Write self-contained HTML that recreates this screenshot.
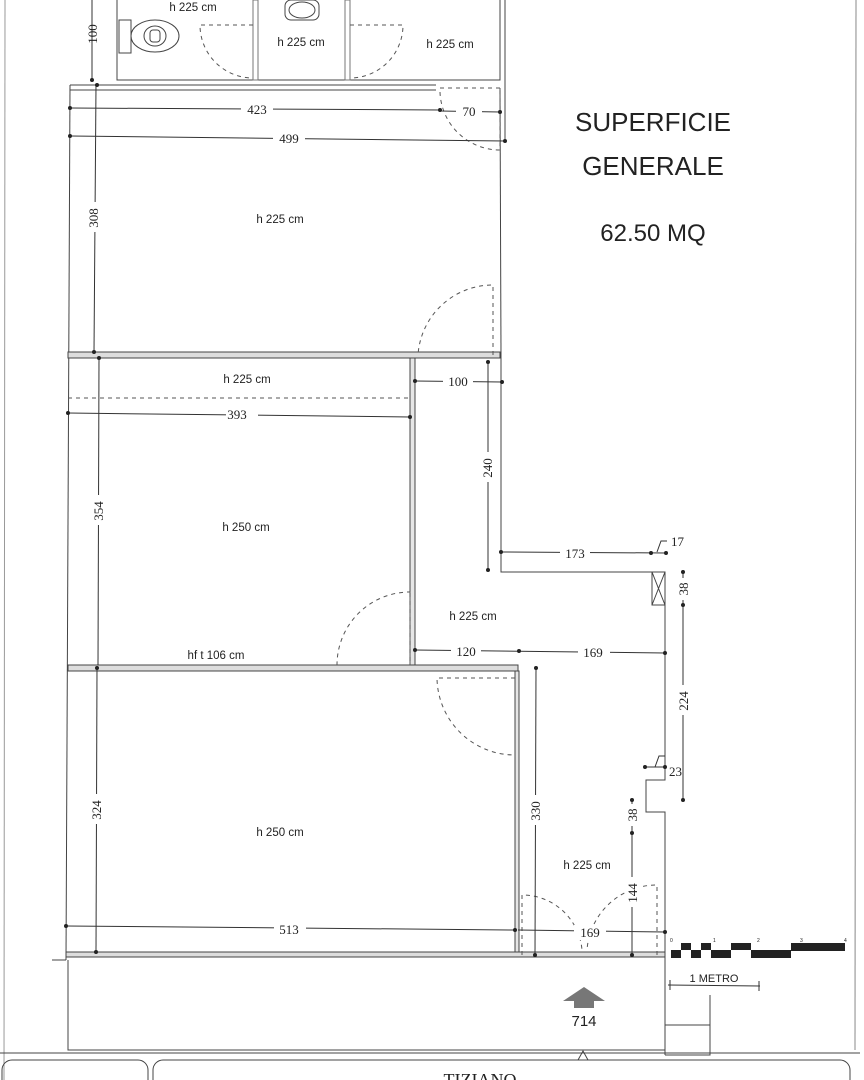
<!DOCTYPE html>
<html><head><meta charset="utf-8"><style>
html,body{margin:0;padding:0;background:#fff;}
svg{display:block;}
.s{font-family:"Liberation Sans",sans-serif;fill:#222;}
.d{font-family:"Liberation Serif",serif;fill:#222;font-size:13px;}
</style></head><body>
<svg width="864" height="1080" viewBox="0 0 864 1080" xmlns="http://www.w3.org/2000/svg">
<g stroke="#444" stroke-width="1" fill="none">
<line x1="5" y1="0" x2="4" y2="1080" stroke="#999"/>
<line x1="856" y1="0" x2="855" y2="1050" stroke="#888"/>
<path d="M117 0 V80 H500 V0"/>
<path d="M505 0 V85"/>
<rect x="253" y="0" width="5" height="80" stroke="#777"/>
<rect x="345" y="0" width="5" height="80" stroke="#777"/>
<rect x="119" y="20" width="12" height="33"/>
<ellipse cx="155" cy="36" rx="24" ry="16"/>
<ellipse cx="155" cy="36" rx="11" ry="10"/>
<rect x="150" y="30" width="10" height="12" rx="3"/>
<rect x="285" y="0" width="34" height="20" rx="6"/>
<ellipse cx="302" cy="10" rx="13" ry="8"/>
<path d="M70 85 H436 M70 90 H436"/>
<line x1="70" y1="85" x2="66" y2="960"/>
<line x1="500" y1="90" x2="501" y2="355"/>
<line x1="505" y1="85" x2="505" y2="142"/>
<rect x="68" y="352" width="432" height="6" fill="#ddd"/>
<rect x="410" y="358" width="5" height="310" fill="#e6e6e6"/>
<path d="M501 355 V572 H665 V780 H646 V812 H665 V1055"/>
<rect x="652" y="572" width="13" height="33"/>
<path d="M652 572 L665 605 M665 572 L652 605"/>
<rect x="68" y="665" width="450" height="6" fill="#ddd"/>
<rect x="515" y="671" width="4" height="284" fill="#e6e6e6"/>
<rect x="66" y="952" width="599" height="5" fill="#ddd"/>
<path d="M66 960 H52 M68 960 V1050 H665"/>
<path d="M0 1053 H860"/>
<rect x="2" y="1060" width="146" height="30" rx="10"/>
<rect x="153" y="1060" width="697" height="30" rx="10"/>
<path d="M578 1060 L583 1051 L588 1060"/>
<path d="M665 1025 H710 M710 995 V1055 H665"/>
</g>
<g stroke="#555" stroke-width="1" fill="none" stroke-dasharray="4 4">
<path d="M253 25 H200 A53 53 0 0 0 253 78"/>
<path d="M350 25 H403 A53 53 0 0 1 350 78"/>
<path d="M500 88 H440 A60 60 0 0 0 500 150 V88"/>
<path d="M493 355 V285 A75 75 0 0 0 418 355"/>
<path d="M410 665 V592 A73 73 0 0 0 337 665"/>
<path d="M515 678 H437 A78 78 0 0 0 515 755"/>
<path d="M522 955 V895 A60 60 0 0 1 582 950"/>
<path d="M657 955 V885 A70 70 0 0 0 587 950"/>
<path d="M68 398 H410"/>
</g>
<g stroke="#333" stroke-width="1" fill="none">
<line x1="92" y1="0" x2="92" y2="80"/>
<line x1="70" y1="108" x2="440" y2="110"/>
<line x1="440" y1="111" x2="500" y2="112"/>
<line x1="70" y1="136" x2="505" y2="141"/>
<line x1="96" y1="85" x2="94" y2="352"/>
<line x1="99" y1="358" x2="98" y2="665"/>
<line x1="68" y1="413" x2="410" y2="417"/>
<line x1="415" y1="381" x2="502" y2="382"/>
<line x1="488" y1="362" x2="488" y2="570"/>
<line x1="501" y1="552" x2="666" y2="553"/>
<line x1="683" y1="570" x2="683" y2="800"/>
<line x1="415" y1="650" x2="665" y2="653"/>
<line x1="536" y1="668" x2="535" y2="955"/>
<line x1="97" y1="668" x2="96" y2="952"/>
<line x1="66" y1="926" x2="515" y2="930"/>
<line x1="518" y1="930" x2="665" y2="932"/>
<line x1="632" y1="800" x2="632" y2="955"/>
<line x1="645" y1="767" x2="665" y2="767"/>
<path d="M655 767 L659 756 H665 M657 552 L661 541 H667"/>
<line x1="668" y1="985" x2="760" y2="986"/>
<line x1="670" y1="980" x2="670" y2="990"/><line x1="759" y1="981" x2="759" y2="991"/>
</g>
<g fill="#222">
<circle cx="92" cy="80" r="2"/><circle cx="97" cy="85" r="2"/><circle cx="70" cy="108" r="2"/><circle cx="440" cy="110" r="2"/><circle cx="500" cy="112" r="2"/><circle cx="70" cy="136" r="2"/><circle cx="505" cy="141" r="2"/>
<circle cx="94" cy="352" r="2"/><circle cx="99" cy="358" r="2"/><circle cx="68" cy="413" r="2"/><circle cx="410" cy="417" r="2"/><circle cx="415" cy="381" r="2"/><circle cx="502" cy="382" r="2"/><circle cx="488" cy="362" r="2"/><circle cx="488" cy="570" r="2"/>
<circle cx="501" cy="552" r="2"/><circle cx="651" cy="553" r="2"/><circle cx="666" cy="553" r="2"/><circle cx="683" cy="572" r="2"/><circle cx="683" cy="605" r="2"/><circle cx="683" cy="800" r="2"/>
<circle cx="415" cy="650" r="2"/><circle cx="519" cy="651" r="2"/><circle cx="665" cy="653" r="2"/><circle cx="536" cy="668" r="2"/><circle cx="535" cy="955" r="2"/>
<circle cx="97" cy="668" r="2"/><circle cx="96" cy="952" r="2"/><circle cx="66" cy="926" r="2"/><circle cx="515" cy="930" r="2"/><circle cx="665" cy="932" r="2"/>
<circle cx="632" cy="800" r="2"/><circle cx="632" cy="833" r="2"/><circle cx="632" cy="955" r="2"/><circle cx="645" cy="767" r="2"/><circle cx="665" cy="767" r="2"/>
</g>
<g class="d" text-anchor="middle">
<g fill="#fff" stroke="none">
<rect x="241" y="101" width="32" height="15"/><rect x="456" y="104" width="26" height="15"/><rect x="273" y="131" width="32" height="15"/>
<rect x="86" y="202" width="15" height="30"/><rect x="91" y="495" width="15" height="30"/><rect x="89" y="794" width="15" height="30"/>
<rect x="226" y="408" width="32" height="15"/><rect x="443" y="374" width="30" height="15"/><rect x="480" y="452" width="15" height="30"/>
<rect x="560" y="546" width="30" height="15"/><rect x="676" y="578" width="15" height="22"/><rect x="676" y="685" width="15" height="30"/>
<rect x="451" y="644" width="30" height="15"/><rect x="578" y="645" width="32" height="15"/><rect x="528" y="795" width="15" height="30"/>
<rect x="274" y="922" width="32" height="15"/><rect x="574" y="925" width="32" height="15"/><rect x="625" y="804" width="15" height="22"/><rect x="625" y="877" width="15" height="30"/>
</g>
<text x="257" y="114">423</text><text x="469" y="116">70</text><text x="289" y="143">499</text>
<text x="237" y="419">393</text><text x="458" y="386">100</text><text x="575" y="558">173</text>
<text x="466" y="656">120</text><text x="593" y="657">169</text><text x="289" y="934">513</text><text x="590" y="937">169</text>
<text x="671" y="546" text-anchor="start">17</text><text x="669" y="776" text-anchor="start">23</text>
<text transform="translate(97,34) rotate(-90)">100</text>
<text transform="translate(98,218) rotate(-90)">308</text>
<text transform="translate(103,511) rotate(-90)">354</text>
<text transform="translate(101,810) rotate(-90)">324</text>
<text transform="translate(492,468) rotate(-90)">240</text>
<text transform="translate(688,589) rotate(-90)">38</text>
<text transform="translate(688,701) rotate(-90)">224</text>
<text transform="translate(540,811) rotate(-90)">330</text>
<text transform="translate(637,815) rotate(-90)">38</text>
<text transform="translate(637,893) rotate(-90)">144</text>
</g>
<g class="s" font-size="11.5" text-anchor="middle">
<text x="193" y="11">h 225 cm</text><text x="301" y="46">h 225 cm</text><text x="450" y="48">h 225 cm</text>
<text x="280" y="223">h 225 cm</text><text x="247" y="383">h 225 cm</text><text x="246" y="531">h 250 cm</text>
<text x="473" y="620">h 225 cm</text><text x="216" y="659">hf t 106 cm</text><text x="280" y="836">h 250 cm</text>
<text x="587" y="869">h 225 cm</text>
</g>
<g class="s" text-anchor="middle" fill="#333">
<text x="653" y="131" font-size="26">SUPERFICIE</text>
<text x="653" y="175" font-size="26">GENERALE</text>
<text x="653" y="241" font-size="24">62.50 MQ</text>
<text x="584" y="1026" font-size="15">714</text>
<text x="714" y="982" font-size="11">1 METRO</text>
<text x="480" y="1086" font-size="18" font-family="Liberation Serif,serif">TIZIANO</text>
</g>
<path d="M563 1001 L584 987 L605 1001 H594 V1008 H574 V1001 Z" fill="#777"/>
<g fill="#222">
<rect x="671" y="950" width="10" height="8"/><rect x="681" y="943" width="10" height="7"/><rect x="691" y="950" width="10" height="8"/>
<rect x="701" y="943" width="10" height="7"/><rect x="711" y="950" width="20" height="8"/><rect x="731" y="943" width="20" height="7"/>
<rect x="751" y="950" width="40" height="8"/><rect x="791" y="943" width="54" height="8"/>
</g>
<g class="s" font-size="5" fill="#333"><text x="670" y="942">0</text><text x="713" y="942">1</text><text x="757" y="942">2</text><text x="800" y="942">3</text><text x="844" y="942">4</text></g>
</svg>
</body></html>
